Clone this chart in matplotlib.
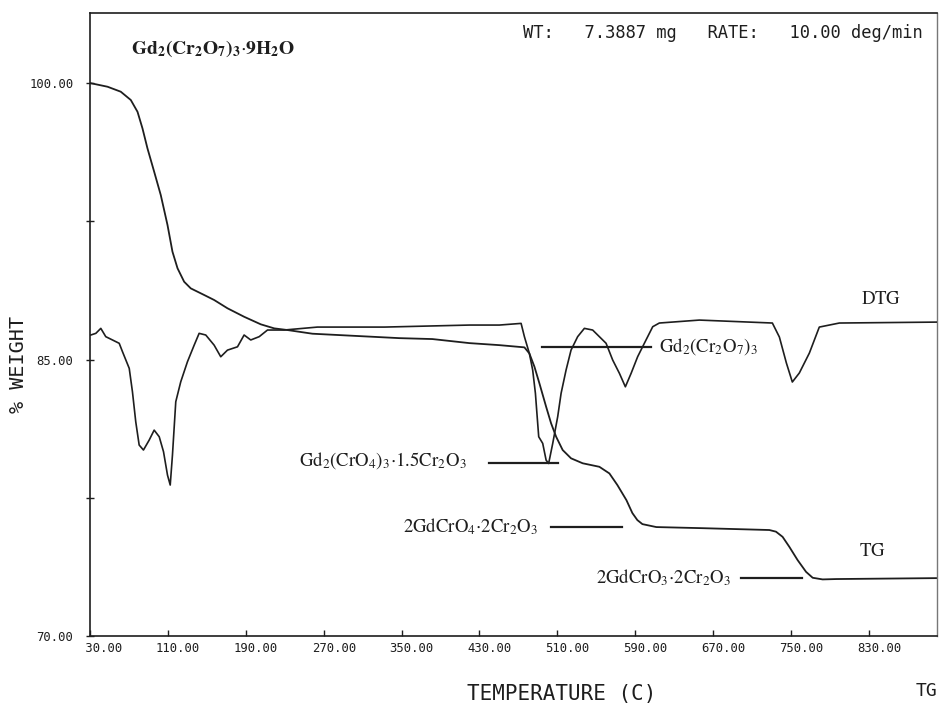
import matplotlib
matplotlib.use("Agg")
import matplotlib.pyplot as plt
from matplotlib.transforms import ScaledTranslation

# TG curve: temperature (C) vs % weight
tg_temp = [30.0, 48.0, 61.6, 71.9, 78.8, 83.9, 89.0, 95.9, 102.7, 109.6,
           114.7, 119.9, 126.7, 133.5, 147.3, 157.5, 171.2, 188.3, 205.4, 219.2,
           232.8, 258.5, 347.8, 381.7, 419.7, 450.5, 476.2, 481.3, 486.5, 491.6,
           498.5, 503.6, 508.8, 515.5, 524.1, 536.1, 553.2, 563.5, 571.7, 581.0,
           587.1, 592.2, 597.4, 611.7, 659.0, 727.8, 734.6, 741.4, 748.3, 756.8,
           765.5, 772.3, 782.5, 796.6, 899.3]
tg_weight = [100.0, 99.80, 99.53, 99.08, 98.44, 97.54, 96.46, 95.19, 93.92, 92.30,
             90.85, 89.95, 89.22, 88.86, 88.50, 88.23, 87.78, 87.32, 86.91, 86.69,
             86.60, 86.40, 86.16, 86.11, 85.89, 85.78, 85.66, 85.33, 84.61, 83.71,
             82.44, 81.54, 80.81, 80.09, 79.64, 79.37, 79.18, 78.82, 78.19, 77.37,
             76.67, 76.29, 76.07, 75.91, 75.85, 75.75, 75.66, 75.38, 74.84, 74.12,
             73.48, 73.16, 73.07, 73.09, 73.14]

# DTG curve (relative units, baseline = 0)
dtg_temp = [30.8, 36.0, 41.1, 46.2, 53.1, 60.0, 63.4, 70.3, 73.6, 77.0,
            80.5, 84.9, 90.8, 95.9, 101.1, 105.5, 109.6, 112.4, 114.7, 118.1,
            123.2, 130.1, 137.0, 142.1, 148.9, 157.5, 164.3, 171.2, 181.5, 188.3,
            195.1, 203.8, 212.3, 229.4, 263.6, 332.4, 420.0, 450.5, 472.8, 476.2,
            481.3, 484.7, 487.5, 488.8, 490.9, 495.0, 498.5, 501.1, 505.3, 510.4,
            513.9, 519.0, 524.1, 530.9, 537.8, 546.3, 553.2, 560.1, 566.9, 573.8,
            579.9, 585.8, 592.5, 599.4, 608.0, 614.8, 655.9, 730.9, 738.1, 745.3,
            751.4, 758.6, 768.9, 779.1, 799.7, 899.3]
dtg_value = [-0.54, -0.45, -0.18, -0.63, -0.81, -0.99, -1.45, -2.35, -3.62, -5.25,
             -6.51, -6.78, -6.24, -5.70, -6.06, -6.87, -8.14, -8.68, -7.05, -4.16,
             -3.08, -1.99, -1.09, -0.45, -0.54, -1.09, -1.72, -1.36, -1.18, -0.54,
             -0.81, -0.63, -0.27, -0.27, -0.11, -0.11, 0.0, 0.0, 0.09, -0.63,
             -1.54, -2.44, -3.70, -4.61, -6.06, -6.42, -7.33, -7.51, -6.42, -4.97,
             -3.70, -2.44, -1.36, -0.63, -0.18, -0.27, -0.63, -0.99, -1.90, -2.62,
             -3.35, -2.62, -1.72, -0.99, -0.09, 0.11, 0.27, 0.11, -0.65, -2.06,
             -3.09, -2.60, -1.52, -0.11, 0.11, 0.16]
dtg_baseline = 86.87  # % weight level where the DTG zero line sits

x_ticks = [30, 110, 190, 270, 350, 430, 510, 590, 670, 750, 830]
y_ticks = [70, 85, 100]
y_minor = [77.5, 92.5]

# phase labels: (text, text x, text y, line start, line end, line y)
phases = [
    (r"$\mathrm{Gd_2(Cr_2O_7)_3}$", 614.8, 85.68, 494.7, 606.6, 85.68),
    (r"$\mathrm{Gd_2(CrO_4)_3{\cdot}1.5Cr_2O_3}$", 245.1, 79.54, 440.2, 511.1, 79.38),
    (r"$\mathrm{2GdCrO_4{\cdot}2Cr_2O_3}$", 351.9, 75.91, 503.5, 576.4, 75.91),
    (r"$\mathrm{2GdCrO_3{\cdot}2Cr_2O_3}$", 550.1, 73.14, 699.1, 761.7, 73.14),
]

plt.rcParams["mathtext.fontset"] = "stix"
plt.rcParams["font.family"] = "DejaVu Sans Mono"

ink = "#1e1e1e"
fig = plt.figure(figsize=(9.4, 7.04), dpi=100)
ax = fig.add_axes([90 / 940, 68 / 704, 847 / 940, 623 / 704])
ax.set_xlim(30, 900)
ax.set_ylim(70, 103.8)

ax.plot(tg_temp, tg_weight, color=ink, lw=1.3)

ax2 = ax.twinx()
ax2.set_ylim(70 - dtg_baseline, 103.8 - dtg_baseline)
ax2.plot(dtg_temp, dtg_value, color=ink, lw=1.2)
ax2.axis("off")

for label, tx, ty, x0, x1, ly in phases:
    ax.text(tx, ty, label, fontsize=13.5, ha="left", va="center", color=ink)
    ax.plot([x0, x1], [ly, ly], color=ink, lw=1.6)

ax.text(822, 88.33, r"$\mathrm{DTG}$", fontsize=13.5, ha="left", va="center", color=ink)
ax.text(820, 74.66, r"$\mathrm{TG}$", fontsize=13.5, ha="left", va="center", color=ink)
ax.text(72.6, 101.84, r"$\mathbf{Gd_2(Cr_2O_7)_3}{\cdot}\mathbf{9H_2O}$", fontsize=14,
        ha="left", va="center", color=ink)
ax.text(474.6, 102.71, "WT:   7.3887 mg   RATE:   10.00 deg/min", fontsize=12.3,
        ha="left", va="center", color=ink)

ax.set_xticks(x_ticks)
ax.set_xticklabels([f"{v:6.2f}" for v in x_ticks], fontsize=8.8)
ax.tick_params(axis="x", direction="in", length=4, width=1, pad=4, colors=ink)
shift = ScaledTranslation(-12 / 100, 0, fig.dpi_scale_trans)
for lab in ax.get_xticklabels():
    lab.set_horizontalalignment("left")
    lab.set_transform(lab.get_transform() + shift)

ax.set_yticks(y_ticks)
ax.set_yticks(y_minor, minor=True)
ax.set_yticklabels([f"{v:.2f}" for v in y_ticks], fontsize=8.8)
ax.tick_params(axis="y", which="both", direction="inout", length=6, width=1,
               pad=9, colors=ink)

for side in ["left", "top", "bottom"]:
    ax.spines[side].set_color(ink)
    ax.spines[side].set_linewidth(1.2)
ax.spines["right"].set_color("#777777")
ax.spines["right"].set_linewidth(1.0)

ax.text(-0.085, 0.435, "% WEIGHT", transform=ax.transAxes, rotation=90,
        fontsize=14.5, ha="center", va="center", color=ink)
ax.text(0.557, -0.093, "TEMPERATURE (C)", transform=ax.transAxes,
        fontsize=15, ha="center", va="center", color=ink)
ax.text(1.0, -0.089, "TG", transform=ax.transAxes,
        fontsize=13, ha="right", va="center", color=ink)

fig.savefig("out.png", dpi=100)
